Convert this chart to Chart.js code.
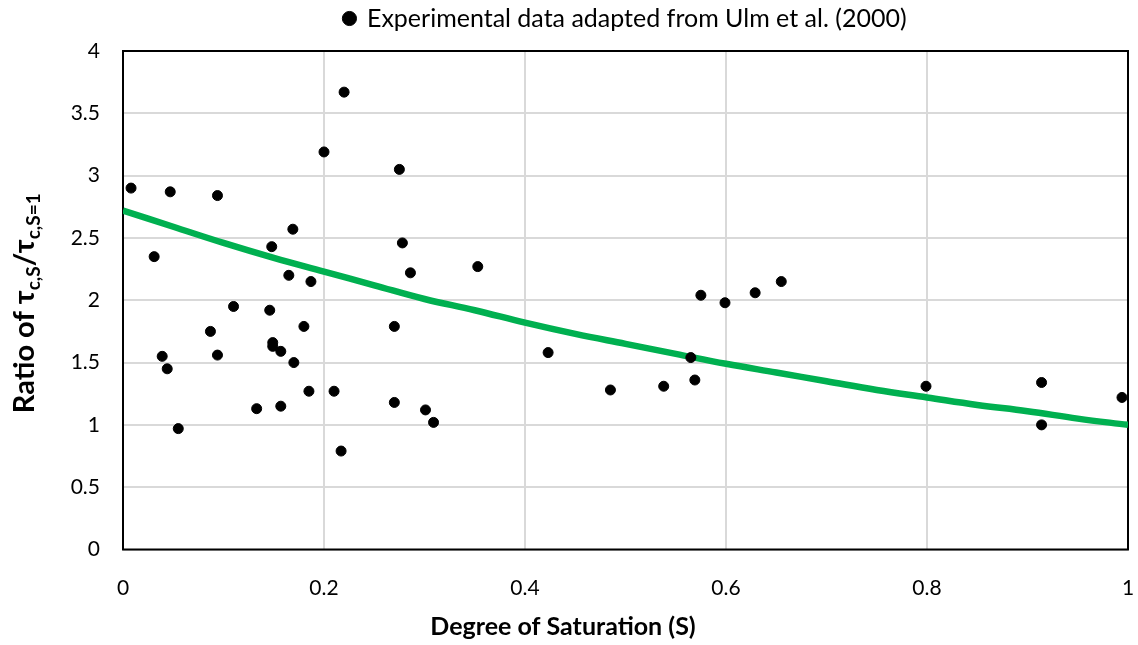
<!DOCTYPE html>
<html>
<head>
<meta charset="utf-8">
<script src="https://cdn.jsdelivr.net/npm/chart.js@4"></script>
<style>
  html, body { margin: 0; padding: 0; background: #fff; }
  #wrap { width: 1138px; height: 645px; }
</style>
</head>
<body>
<div id="wrap"><canvas id="chart1"></canvas></div>
<script>
// experimental points (S, ratio)
const satPts = [0.008, 0.031, 0.047, 0.039, 0.044, 0.055, 0.094, 0.087, 0.094, 0.110,
	0.133, 0.146, 0.148, 0.149, 0.149, 0.157, 0.157, 0.165, 0.169, 0.170,
	0.180, 0.185, 0.187, 0.200, 0.210, 0.217, 0.220, 0.270, 0.270, 0.275,
	0.278, 0.286, 0.301, 0.309, 0.353, 0.423, 0.485, 0.538, 0.565, 0.569,
	0.575, 0.599, 0.629, 0.655, 0.799, 0.914, 0.914, 0.994];
const ratioPts = [2.90, 2.35, 2.87, 1.55, 1.45, 0.97, 2.84, 1.75, 1.56, 1.95,
	1.13, 1.92, 2.43, 1.66, 1.63, 1.59, 1.15, 2.20, 2.57, 1.50,
	1.79, 1.27, 2.15, 3.19, 1.27, 0.79, 3.67, 1.79, 1.18, 3.05,
	2.46, 2.22, 1.12, 1.02, 2.27, 1.58, 1.28, 1.31, 1.54, 1.36,
	2.04, 1.98, 2.06, 2.15, 1.31, 1.34, 1.00, 1.22];

// green curve
const curveS = [0, 0.05, 0.1, 0.15, 0.2, 0.25, 0.3, 0.35, 0.4, 0.45, 0.5,
	0.55, 0.6, 0.65, 0.7, 0.75, 0.8, 0.85, 0.9, 0.95, 1];
const curveRatio = [2.72, 2.59, 2.46, 2.34, 2.23, 2.12, 2.01, 1.92, 1.82, 1.73, 1.65,
	1.57, 1.49, 1.42, 1.35, 1.28, 1.22, 1.16, 1.11, 1.05, 1.00];

const legendText = "Experimental data adapted from Ulm et al. (2000)";
const xTitle = "Degree of Saturation (S)";

const FONT = "Lato";

// plot frame, legend height, axis titles (y one has subscripts)
const extras = {
	id: "extras",
	beforeLayout(chart) {
		const lg = chart.legend;
		if (lg && !lg._patched) {
			const fit = lg.fit.bind(lg);
			lg.fit = function () {
				fit();
				this.height = 51;
			};
			lg._patched = true;
		}
	},
	beforeDatasetsDraw(chart) {
		const ctx = chart.ctx, a = chart.chartArea;
		ctx.save();
		ctx.strokeStyle = "#000";
		ctx.lineWidth = 2;
		ctx.strokeRect(a.left, a.top, a.right - a.left, a.bottom - a.top);
		ctx.restore();
	},
	afterDraw(chart) {
		const ctx = chart.ctx, a = chart.chartArea;
		ctx.save();
		ctx.fillStyle = "#000";
		ctx.font = "bold 25px " + FONT;
		ctx.textAlign = "center";
		ctx.textBaseline = "middle";
		ctx.fillText(xTitle, chart.width / 2 - 6, 627);
		ctx.restore();

		const parts = [
			{ t: "Ratio of τ", s: 29, dy: 0 },
			{ t: "c,S", s: 19, dy: 6 },
			{ t: "/τ", s: 29, dy: 0 },
			{ t: "c,S=1", s: 19, dy: 6 },
		];
		ctx.save();
		let total = 0;
		parts.forEach((p) => {
			ctx.font = "bold " + p.s + "px " + FONT;
			p.w = ctx.measureText(p.t).width;
			total += p.w;
		});
		ctx.translate(34, (a.top + a.bottom) / 2 + 3);
		ctx.rotate(-Math.PI / 2);
		ctx.fillStyle = "#000";
		ctx.textBaseline = "alphabetic";
		let x = -total / 2;
		parts.forEach((p) => {
			ctx.font = "bold " + p.s + "px " + FONT;
			ctx.fillText(p.t, x, p.dy);
			x += p.w;
		});
		ctx.restore();
	},
};

new Chart(document.getElementById("chart1"), {
	type: "scatter",
	data: {
		datasets: [
			{
				label: legendText,
				data: satPts.map((s, i) => ({ x: s, y: ratioPts[i] })),
				backgroundColor: "#000",
				borderColor: "#000",
				pointRadius: 5,
				pointHoverRadius: 5,
			},
			{
				label: "fit",
				data: curveS.map((s, i) => ({ x: s, y: curveRatio[i] })),
				showLine: true,
				borderColor: "#00B050",
				borderWidth: 6.5,
				pointRadius: 0,
				tension: 0.4,
			},
		],
	},
	options: {
		responsive: true,
		maintainAspectRatio: false,
		animation: false,
		layout: { padding: { top: 0, right: 10, left: 0, bottom: 0 } },
		plugins: {
			tooltip: { enabled: false },
			legend: {
				position: "top",
				fullSize: false,
				labels: {
					filter: (item) => item.datasetIndex === 0,
					usePointStyle: true,
					pointStyle: "circle",
					boxWidth: 10,
					boxHeight: 10,
					color: "#000",
					padding: 6,
					font: { family: FONT, size: 25 },
				},
			},
		},
		scales: {
			x: {
				type: "linear",
				min: 0,
				max: 1,
				afterFit: (s) => { s.height = 95.5; s.paddingRight = 0; s.paddingLeft = 0; },
				ticks: {
					stepSize: 0.2,
					color: "#000",
					padding: 26,
					font: { family: FONT, size: 21 },
					callback: (v) => String(+v.toFixed(2)),
				},
				grid: { color: "#d9d9d9", lineWidth: 2, drawTicks: false },
				border: { display: false },
			},
			y: {
				min: 0,
				max: 4,
				afterFit: (s) => { s.width = 123; },
				ticks: {
					stepSize: 0.5,
					color: "#000",
					padding: 23,
					font: { family: FONT, size: 21 },
					callback: (v) => String(+v.toFixed(2)),
				},
				grid: { color: "#d9d9d9", lineWidth: 2, drawTicks: false },
				border: { display: false },
			},
		},
	},
	plugins: [extras],
});
</script>
</body>
</html>
